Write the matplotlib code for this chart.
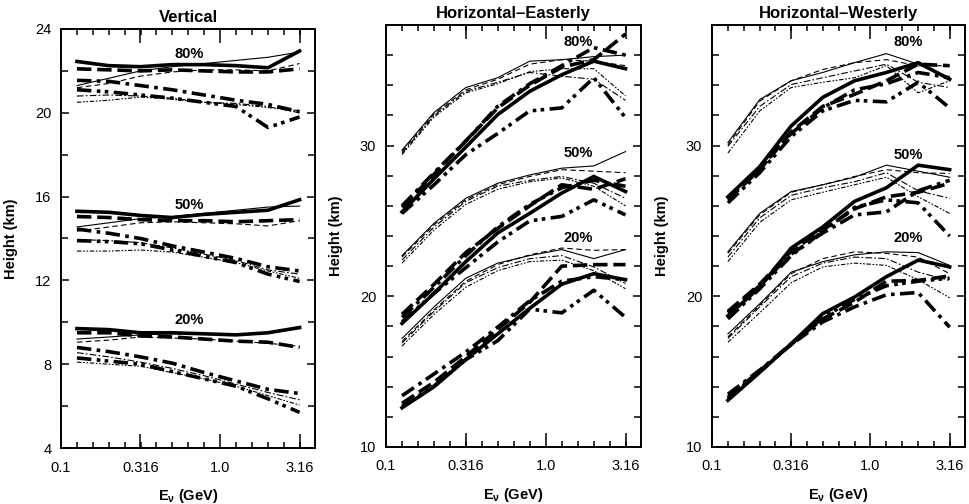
import numpy as np
import matplotlib
matplotlib.use("Agg")
import matplotlib.pyplot as plt
from matplotlib.ticker import FixedLocator, NullFormatter

plt.rcParams['font.family'] = ['Liberation Sans', 'DejaVu Sans']
plt.rcParams['mathtext.fontset'] = 'custom'
plt.rcParams['mathtext.rm'] = 'Liberation Sans:bold'
plt.rcParams['mathtext.it'] = 'Liberation Sans:bold'
plt.rcParams['mathtext.bf'] = 'Liberation Sans:bold'

# neutrino energy bins (GeV)
e_nu = [0.126, 0.2, 0.316, 0.5, 0.794, 1.26, 2.0, 3.16]

# row order: thick solid, thick dashed, thick dash-dot, thick dash-dot-dot,
#            thin solid, thin dashed, thin dash-dot, thin dash-dot-dot
vertical_80 = [
    [22.45, 22.25, 22.2, 22.3, 22.3, 22.25, 22.15, 22.95],
    [22.1, 22.05, 22.0, 22.05, 22.0, 21.95, 21.95, 22.1],
    [21.55, 21.5, 21.3, 21.1, 20.85, 20.6, 20.4, 20.05],
    [21.1, 21.0, 20.85, 20.7, 20.5, 20.3, 19.3, 19.8],
    [21.3, 21.65, 22.0, 22.2, 22.35, 22.5, 22.65, 22.9],
    [21.2, 21.4, 21.75, 21.95, 22.05, 22.05, 22.0, 22.35],
    [20.8, 20.85, 20.8, 20.7, 20.5, 20.45, 20.3, 20.0],
    [20.5, 20.6, 20.75, 20.65, 20.5, 20.4, 20.25, 20.1],
]
vertical_50 = [
    [15.3, 15.25, 15.1, 15.0, 15.15, 15.25, 15.35, 15.85],
    [15.05, 15.0, 14.9, 14.85, 14.85, 14.8, 14.85, 14.9],
    [14.45, 14.25, 14.0, 13.65, 13.35, 13.05, 12.65, 12.45],
    [13.9, 13.85, 13.75, 13.45, 13.15, 12.85, 12.3, 11.95],
    [14.55, 14.75, 14.95, 15.05, 15.2, 15.35, 15.5, 15.55],
    [14.35, 14.55, 14.75, 14.8, 14.75, 14.7, 14.6, 14.85],
    [13.95, 13.9, 13.8, 13.55, 13.25, 12.95, 12.5, 12.3],
    [13.4, 13.4, 13.45, 13.35, 13.1, 12.85, 12.45, 12.1],
]
vertical_20 = [
    [9.7, 9.65, 9.5, 9.5, 9.45, 9.4, 9.5, 9.75],
    [9.5, 9.5, 9.35, 9.3, 9.2, 9.1, 9.05, 8.8],
    [8.8, 8.6, 8.35, 8.05, 7.6, 7.2, 6.8, 6.6],
    [8.3, 8.15, 8.0, 7.65, 7.3, 6.95, 6.35, 5.7],
    [9.2, 9.3, 9.4, 9.45, 9.45, 9.4, 9.5, 9.7],
    [9.05, 9.15, 9.3, 9.25, 9.2, 9.1, 9.0, 8.85],
    [8.55, 8.35, 8.1, 7.8, 7.45, 7.05, 6.65, 6.3],
    [8.1, 8.0, 7.9, 7.6, 7.3, 6.95, 6.5, 6.05],
]
easterly_80 = [
    [25.6, 27.8, 29.9, 32.05, 33.6, 34.7, 35.6, 35.1],
    [25.9, 28.1, 30.3, 32.5, 34.0, 35.2, 35.7, 37.4],
    [26.0, 28.2, 30.3, 32.6, 34.1, 35.3, 36.5, 36.0],
    [25.5, 27.4, 29.4, 30.8, 32.3, 32.5, 34.5, 31.85],
    [29.7, 32.2, 33.85, 34.5, 35.6, 35.7, 35.9, 36.0],
    [29.6, 32.1, 33.7, 34.4, 35.4, 35.7, 35.6, 35.3],
    [29.5, 32.0, 33.6, 34.2, 34.85, 34.6, 34.4, 33.0],
    [29.4, 31.9, 33.5, 34.1, 34.9, 35.1, 35.1, 33.3],
]
easterly_50 = [
    [18.2, 20.2, 22.3, 24.2, 25.5, 26.85, 27.95, 26.95],
    [18.8, 20.8, 22.9, 24.5, 26.0, 27.4, 27.1, 27.8],
    [18.6, 20.6, 22.7, 24.6, 26.1, 27.2, 27.7, 27.3],
    [18.3, 20.2, 21.9, 23.6, 25.0, 25.3, 26.4, 25.4],
    [22.7, 24.85, 26.5, 27.5, 28.05, 28.5, 28.65, 29.6],
    [22.6, 24.75, 26.4, 27.4, 27.95, 28.4, 28.3, 28.2],
    [22.4, 24.6, 26.3, 27.3, 27.7, 27.95, 27.5, 26.5],
    [22.2, 24.4, 26.1, 27.1, 27.6, 27.85, 27.3, 26.0],
]
easterly_20 = [
    [12.6, 14.0, 15.8, 17.5, 19.2, 20.8, 21.5, 21.1],
    [12.9, 14.3, 16.0, 17.8, 19.6, 22.0, 22.1, 22.1],
    [13.4, 14.85, 16.3, 17.95, 19.7, 21.0, 21.3, 21.1],
    [12.7, 14.05, 15.8, 17.05, 19.15, 18.9, 20.4, 18.6],
    [17.2, 19.3, 21.2, 22.2, 22.7, 23.1, 22.5, 23.1],
    [17.0, 19.1, 21.0, 22.1, 22.75, 23.2, 23.05, 23.1],
    [16.9, 19.0, 20.9, 21.9, 22.5, 22.7, 21.95, 20.85],
    [16.7, 18.8, 20.6, 21.7, 22.3, 22.4, 21.7, 20.5],
]
westerly_80 = [
    [26.6, 28.6, 31.3, 33.2, 34.3, 34.85, 35.5, 34.4],
    [26.4, 28.4, 30.9, 32.6, 33.4, 34.3, 35.4, 35.3],
    [26.5, 28.5, 30.8, 32.5, 33.7, 34.1, 34.85, 34.5],
    [26.2, 28.2, 30.6, 32.3, 33.0, 32.9, 34.2, 32.5],
    [30.2, 33.05, 34.3, 34.85, 35.5, 36.1, 35.4, 34.5],
    [30.05, 32.95, 34.3, 35.05, 35.5, 35.7, 35.3, 35.3],
    [29.95, 32.6, 34.05, 34.5, 34.95, 35.4, 34.2, 33.85],
    [29.5, 32.3, 33.85, 34.2, 34.5, 35.3, 33.5, 34.3],
]
westerly_50 = [
    [18.7, 20.6, 23.2, 24.6, 26.3, 27.2, 28.7, 28.4],
    [19.0, 20.8, 23.0, 24.4, 25.8, 26.6, 26.9, 27.5],
    [18.9, 20.7, 22.8, 24.2, 25.4, 25.6, 27.0, 27.7],
    [18.5, 20.5, 22.7, 24.3, 25.9, 26.4, 26.2, 24.0],
    [22.95, 25.5, 26.95, 27.4, 27.9, 28.7, 28.3, 27.9],
    [22.85, 25.4, 26.9, 27.4, 27.95, 28.4, 28.2, 28.15],
    [22.6, 25.2, 26.7, 27.2, 27.6, 28.2, 27.0, 26.5],
    [22.3, 24.9, 26.4, 26.9, 27.4, 27.9, 26.6, 25.5],
]
westerly_20 = [
    [13.1, 14.95, 16.85, 18.85, 19.95, 21.3, 22.4, 21.95],
    [13.3, 15.05, 16.85, 18.5, 19.6, 21.0, 21.05, 21.35],
    [13.5, 15.1, 16.8, 18.3, 19.3, 20.1, 20.25, 17.95],
    [13.2, 15.0, 16.8, 18.6, 19.8, 20.7, 21.0, 21.2],
    [17.5, 19.5, 21.6, 22.3, 22.75, 22.95, 22.9, 22.05],
    [17.3, 19.4, 21.5, 22.5, 22.95, 22.85, 22.6, 21.5],
    [17.2, 19.3, 21.3, 22.2, 22.6, 22.5, 21.6, 21.05],
    [16.95, 18.9, 20.9, 21.95, 22.2, 22.05, 21.1, 19.9],
]

panel_titles = ["Vertical", "Horizontal\u2013Easterly", "Horizontal\u2013Westerly"]
level_labels = ["80%", "50%", "20%"]
x_tick_labels = ["0.1", "0.316", "1.0", "3.16"]
x_tick_values = [0.1, 0.316, 1.0, 3.16]

panels = [
    [vertical_80, vertical_50, vertical_20],
    [easterly_80, easterly_50, easterly_20],
    [westerly_80, westerly_50, westerly_20],
]

thick, thin = 2.6, 0.8
styles = [
    dict(lw=thick, ls='-'),
    dict(lw=thick, ls=(0, (4, 1.6))),
    dict(lw=thick, ls=(0, (4, 1.5, 1, 1.5))),
    dict(lw=thick, ls=(0, (4, 1.5, 1, 1.2, 1, 1.5))),
    dict(lw=thin, ls='-'),
    dict(lw=thin, ls=(0, (5, 3))),
    dict(lw=thin, ls=(0, (6, 2, 1.5, 2))),
    dict(lw=thin, ls=(0, (4, 1.5, 1.5, 1.5, 1.5, 1.5))),
]

fig = plt.figure(figsize=(9.69, 5.04), dpi=100)
W, H = 969.0, 504.0
boxes = [(61, 315, 29, 448), (386, 641, 25, 447), (712, 965, 25, 447)]
ylims = [(4, 24), (10, 38), (10, 38)]
label_pos = [
    [(0.64, 22.8), (0.64, 15.6), (0.64, 10.1)],
    [(1.59, 36.85), (1.59, 29.5), (1.59, 23.85)],
    [(1.72, 36.85), (1.72, 29.4), (1.72, 23.85)],
]

for p, (l, r, t, b) in enumerate(boxes):
    ax = fig.add_axes([l / W, (H - b) / H, (r - l) / W, (b - t) / H])
    ax.set_xscale('log')
    ax.set_xlim(0.1, 3.95)
    ax.set_ylim(*ylims[p])
    for g, group in enumerate(panels[p]):
        for s, series in enumerate(group):
            ax.plot(e_nu, series, color='black', solid_joinstyle='miter',
                    dash_capstyle='butt', **styles[s])
        lx, ly = label_pos[p][g]
        ax.text(lx, ly, level_labels[g], fontsize=10.5, fontweight='bold',
                ha='center', va='center')
    ax.xaxis.set_major_locator(FixedLocator(x_tick_values))
    ax.set_xticklabels(x_tick_labels)
    ax.xaxis.set_minor_locator(FixedLocator(10 ** np.arange(-0.9, 0.55, 0.1)))
    ax.xaxis.set_minor_formatter(NullFormatter())
    if p == 0:
        ax.set_yticks([4, 8, 12, 16, 20, 24])
        ax.yaxis.set_minor_locator(FixedLocator(np.arange(6, 24, 4)))
    else:
        ax.set_yticks([10, 20, 30])
        ax.yaxis.set_minor_locator(FixedLocator([v for v in range(12, 38, 2) if v % 10]))
    ax.tick_params(axis='both', which='both', direction='in', top=True, right=True,
                   labelsize=10.5, width=1.1)
    ax.tick_params(axis='x', which='both', pad=9)
    ax.tick_params(axis='y', which='both', pad=7)
    ax.tick_params(axis='x', which='major', length=10)
    ax.tick_params(axis='x', which='minor', length=4)
    ax.tick_params(axis='y', which='major', length=6)
    ax.tick_params(axis='y', which='minor', length=5)
    for sp in ax.spines.values():
        sp.set_linewidth(1.4)
    ax.set_title(panel_titles[p], fontsize=12, fontweight='bold', pad=5)
    ax.set_ylabel("Height (km)", fontsize=10.5, fontweight='bold', labelpad=12)
    ax.set_xlabel(r"E$_{\nu}$ (GeV)", fontsize=10.5, fontweight='bold', labelpad=9)

fig.savefig("out.png", dpi=100)
